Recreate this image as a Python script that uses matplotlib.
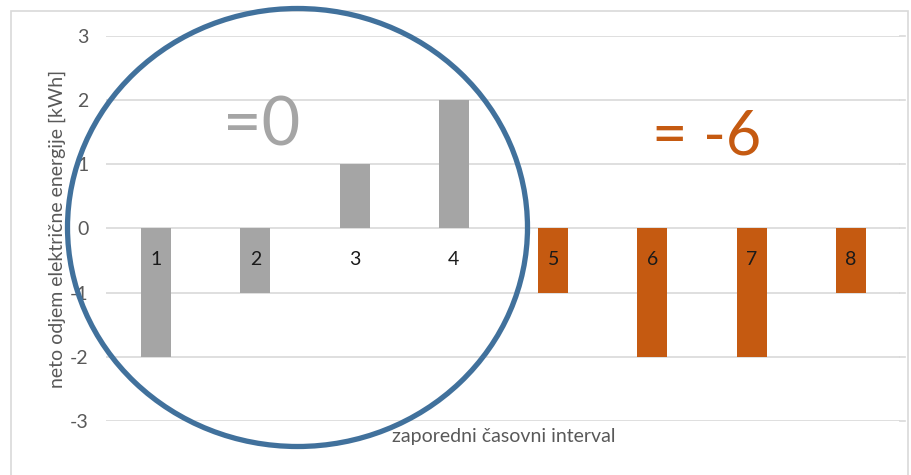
import matplotlib.pyplot as plt
from matplotlib.patches import Ellipse, Rectangle

intervals = ['1', '2', '3', '4', '5', '6', '7', '8']
net_energy = [-2, -1, 1, 2, -1, -2, -2, -1]
bar_colors = ['#A5A5A5'] * 4 + ['#C55A11'] * 4
yticks = [-3, -2, -1, 0, 1, 2, 3]
sum_first = '=0'
sum_second = '= -6'

plt.rcParams['font.family'] = ['Lato', 'DejaVu Sans']

fig = plt.figure(figsize=(9.12, 4.75), dpi=100)
ax = fig.add_axes([106.5 / 912, 1 - 421 / 475, 794 / 912, 385 / 475])

xs = list(range(len(intervals)))
ax.bar(xs, net_energy, width=0.3, color=bar_colors, zorder=2)
for x, lab in zip(xs, intervals):
    ax.text(x, -0.48, lab, ha='center', va='center', fontsize=14,
            color='#1a1a1a', zorder=3)

ax.set_xlim(-0.5, len(intervals) - 0.5)
ax.set_ylim(-3, 3)
ax.set_yticks(yticks)
ax.set_yticklabels([str(v) for v in yticks], fontsize=14, color='#595959')
ax.set_xticks([])
ax.tick_params(axis='y', length=0, pad=13)
ax.grid(axis='y', color='#D9D9D9', lw=1.2, zorder=0)
for s in ax.spines.values():
    s.set_visible(False)
# gridlines run a little past the last category
for v in yticks:
    ax.plot([len(intervals) - 0.5, len(intervals) - 0.45], [v, v],
            color='#D9D9D9', lw=1.2, clip_on=False, zorder=0)

ax.set_ylabel('neto odjem električne energije [kWh]', fontsize=14,
              color='#595959', labelpad=2.5)
ax.set_xlabel('zaporedni časovni interval', fontsize=14, color='#595959',
              labelpad=5)

# sums over the two groups
fig.text(262 / 912, 1 - 126 / 475, sum_first, fontsize=48, color='#A5A5A5',
         ha='center', va='center')
fig.text(707 / 912, 1 - 137 / 475, sum_second, fontsize=44, color='#C55A11',
         ha='center', va='center')

# circle around the first group
fig.add_artist(Ellipse((297.5 / 912, 1 - 227.5 / 475), 460 / 912, 438 / 475,
                       transform=fig.transFigure, fill=False,
                       edgecolor='#41719C', lw=3.8, zorder=5))

# outer chart frame
fig.add_artist(Rectangle((11 / 912, -0.01), 897 / 912, 1 - 11 / 475 + 0.01,
                         transform=fig.transFigure, fill=False,
                         edgecolor='#D9D9D9', lw=1.2))

fig.savefig('out.png', dpi=100)
